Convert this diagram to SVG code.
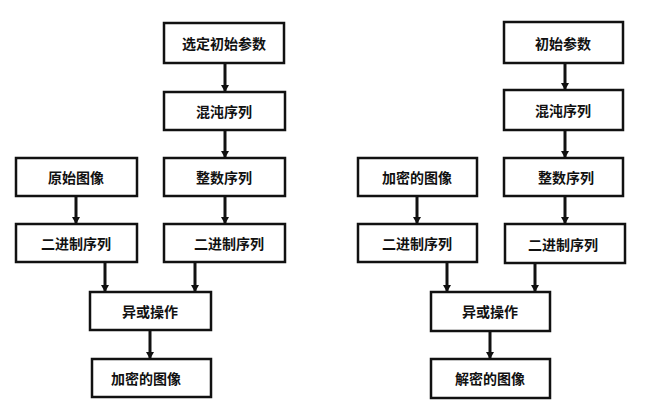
<svg xmlns="http://www.w3.org/2000/svg" width="651" height="419" viewBox="0 0 651 419">
<style>
rect{fill:#fff;stroke:#111;stroke-width:2.5}
text{font-family:"Noto Sans CJK SC",sans-serif;font-size:14px;font-weight:bold;text-anchor:middle;dominant-baseline:central;fill:#111}
#c line{stroke:#111;stroke-width:3}
</style>
<defs><marker id="a" markerWidth="8" markerHeight="8" refX="6" refY="4" orient="auto" markerUnits="userSpaceOnUse"><path d="M0,0L7,4L0,8z" fill="#111"/></marker></defs>
<rect width="651" height="419" style="stroke:none"/>
<g id="l1"><rect x="164" y="23" width="120" height="40"/><text x="224" y="43">选定初始参数</text></g>
<g id="l2"><rect x="164" y="92" width="121" height="38"/><text x="224" y="111">混沌序列</text></g>
<g id="l3"><rect x="164" y="158" width="121" height="38"/><text x="224" y="177">整数序列</text></g>
<g id="l4"><rect x="164" y="224" width="121" height="38"/><text x="229" y="243">二进制序列</text></g>
<g id="l5"><rect x="16" y="158" width="121" height="38"/><text x="76" y="177">原始图像</text></g>
<g id="l6"><rect x="16" y="224" width="121" height="38"/><text x="76" y="243">二进制序列</text></g>
<g id="l7"><rect x="90" y="292" width="121" height="38"/><text x="150" y="311">异或操作</text></g>
<g id="l8"><rect x="92" y="359" width="119" height="38"/><text x="146" y="378">加密的图像</text></g>
<g id="r1"><rect x="504" y="22" width="119" height="41"/><text x="563" y="43">初始参数</text></g>
<g id="r2"><rect x="504" y="90" width="119" height="40"/><text x="563" y="110">混沌序列</text></g>
<g id="r3"><rect x="504" y="158" width="119" height="38"/><text x="566" y="177">整数序列</text></g>
<g id="r4"><rect x="505" y="224" width="120" height="39"/><text x="563" y="244">二进制序列</text></g>
<g id="r5"><rect x="358" y="158" width="119" height="38"/><text x="417" y="177">加密的图像</text></g>
<g id="r6"><rect x="358" y="224" width="119" height="38"/><text x="417" y="243">二进制序列</text></g>
<g id="r7"><rect x="431" y="292" width="119" height="39"/><text x="490" y="311">异或操作</text></g>
<g id="r8"><rect x="431" y="359" width="119" height="39"/><text x="490" y="378">解密的图像</text></g>
<g id="c">
<line x1="225" y1="63" x2="225" y2="91" marker-end="url(#a)"/>
<line x1="225" y1="130" x2="225" y2="157" marker-end="url(#a)"/>
<line x1="225" y1="196" x2="225" y2="223" marker-end="url(#a)"/>
<line x1="76" y1="196" x2="76" y2="223" marker-end="url(#a)"/>
<line x1="105" y1="262" x2="105" y2="291" marker-end="url(#a)"/>
<line x1="195" y1="262" x2="195" y2="291" marker-end="url(#a)"/>
<line x1="150" y1="330" x2="150" y2="358" marker-end="url(#a)"/>
<line x1="565" y1="63" x2="565" y2="89" marker-end="url(#a)"/>
<line x1="565" y1="130" x2="565" y2="157" marker-end="url(#a)"/>
<line x1="565" y1="196" x2="565" y2="223" marker-end="url(#a)"/>
<line x1="417" y1="196" x2="417" y2="223" marker-end="url(#a)"/>
<line x1="447" y1="262" x2="447" y2="291" marker-end="url(#a)"/>
<line x1="535" y1="263" x2="535" y2="291" marker-end="url(#a)"/>
<line x1="490" y1="331" x2="490" y2="358" marker-end="url(#a)"/>
</g>
</svg>
